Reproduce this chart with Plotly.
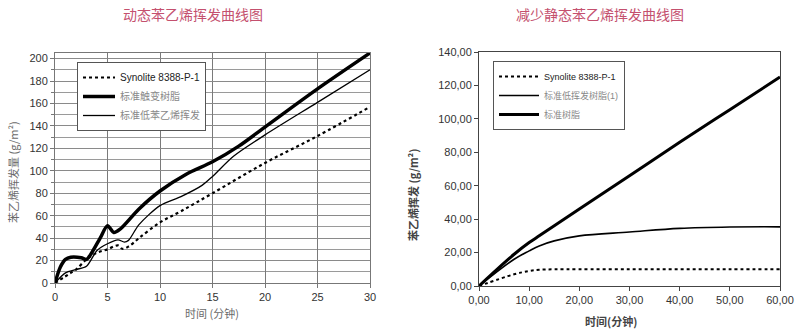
import plotly.graph_objects as go

# ---- Dynamic styrene emission (left panel) ----
dyn_title = "动态苯乙烯挥发曲线图"
dyn_names = ["Synolite 8388-P-1", "标准触变树脂", "标准低苯乙烯挥发"]

dyn_syn_t = [0, 1, 1.5, 2, 3, 4, 5, 6, 6.4, 7, 8, 10, 12, 15, 20, 25, 30]
dyn_syn_v = [0, 6, 9, 12, 21, 27, 30, 33.5, 30.5, 32.5, 40, 54, 64, 80, 107, 131, 157]

dyn_thx_t = [0, 0.5, 1, 1.5, 2.5, 3, 3.5, 4.3, 5, 5.6, 6.2, 8, 10, 12.5, 15, 17.5, 20, 25, 30]
dyn_thx_v = [0, 14, 21, 23, 22.5, 21, 27, 40, 51, 45, 48, 66, 82, 97, 108, 122, 139, 173, 205]

dyn_low_t = [0, 1, 2, 3, 4, 5, 6, 6.6, 7, 8, 10, 12, 14, 15, 17, 20, 25, 30]
dyn_low_v = [0, 9, 12, 15, 29, 35, 38.5, 36.5, 38, 52, 69, 77, 87, 95, 113, 132, 161, 190]

# ---- Reduced static styrene emission (right panel) ----
sta_title = "减少静态苯乙烯挥发曲线图"
sta_names = ["Synolite 8388-P-1", "标准低挥发树脂(1)", "标准树脂"]

sta_t = [0, 7, 10, 12, 15, 20, 30, 40, 50, 60]
sta_syn_v = [0, 7, 9, 9.7, 10, 10, 10, 10, 10, 10]
sta_low_v = [0, 16, 21, 24, 27, 30, 32.3, 34.5, 35.3, 35.4]
sta_std_v = [0, 19, 26, 30, 36, 46, 66, 86, 105.5, 125]

title_color = "#c4506e"
gray_text = "#6a6a6a"
cjk = "Noto Sans CJK SC"
latin = "Liberation Sans"


def lname(text, color):
    return f"<span style='color:{color}'>{text}</span>"


fig = go.Figure()

# left panel traces
fig.add_trace(go.Scatter(x=dyn_syn_t, y=dyn_syn_v, mode="lines", line=dict(color="black", width=2.2, dash="dot", shape="spline"),
                         name=lname(dyn_names[0], "#222"), legend="legend", xaxis="x", yaxis="y"))
fig.add_trace(go.Scatter(x=dyn_thx_t, y=dyn_thx_v, mode="lines", line=dict(color="black", width=3.5, shape="spline", smoothing=0.8),
                         name=lname(dyn_names[1], "#888"), legend="legend", xaxis="x", yaxis="y"))
fig.add_trace(go.Scatter(x=dyn_low_t, y=dyn_low_v, mode="lines", line=dict(color="black", width=1.3, shape="spline", smoothing=0.8),
                         name=lname(dyn_names[2], "#888"), legend="legend", xaxis="x", yaxis="y"))

# right panel traces
fig.add_trace(go.Scatter(x=sta_t, y=sta_syn_v, mode="lines", line=dict(color="black", width=2, dash="dot", shape="spline"),
                         name=lname(sta_names[0], "#222"), legend="legend2", xaxis="x2", yaxis="y2"))
fig.add_trace(go.Scatter(x=sta_t, y=sta_low_v, mode="lines", line=dict(color="black", width=1.6, shape="spline"),
                         name=lname(sta_names[1], "#888"), legend="legend2", xaxis="x2", yaxis="y2"))
fig.add_trace(go.Scatter(x=sta_t, y=sta_std_v, mode="lines", line=dict(color="black", width=3, shape="spline"),
                         name=lname(sta_names[2], "#888"), legend="legend2", xaxis="x2", yaxis="y2"))

W, H = 800, 331

legend_common = dict(
    bgcolor="white", bordercolor="#555", borderwidth=1,
    xanchor="left", yanchor="top", tracegroupgap=0,
)


def note(text, x, y, size=11, color=gray_text, angle=0):
    return dict(text=text, x=x / W, y=1 - y / H, xref="paper", yref="paper", showarrow=False,
                xanchor="center", yanchor="middle", textangle=angle,
                font=dict(family=cjk, size=size, color=color))


fig.update_layout(
    width=W, height=H,
    margin=dict(l=0, r=0, t=0, b=0, autoexpand=False),
    paper_bgcolor="white", plot_bgcolor="white",
    separators=",.",
    showlegend=True,
    font=dict(family=f"{latin}, {cjk}", size=11, color="#333"),
    legend=dict(x=77 / W, y=1 - 62 / H, itemwidth=32,
                font=dict(family=f"{latin}, {cjk}", size=10, color="#222"), **legend_common),
    legend2=dict(x=493 / W, y=1 - 61 / H, itemwidth=40,
                 font=dict(family=f"{latin}, {cjk}", size=9, color="#222"), **legend_common),
    xaxis=dict(
        domain=[55 / W, 370 / W], range=[0, 30], dtick=5, tick0=0,
        showgrid=True, gridcolor="#7a7a7a", gridwidth=1,
        showline=True, linecolor="#777", mirror=True,
        ticks="outside", ticklen=4, tickcolor="#777",
        tickfont=dict(size=11, color="#333"), zeroline=False, automargin=False,
    ),
    yaxis=dict(
        domain=[(H - 283) / H, (H - 53) / H], range=[0, 205], dtick=20, tick0=0,
        showgrid=True, gridcolor="#8a8a8a", gridwidth=1,
        minor=dict(dtick=10, showgrid=True, gridcolor="#9a9a9a", ticks="outside", ticklen=3, tickcolor="#777"),
        showline=True, linecolor="#777", mirror=True,
        ticks="outside", ticklen=4, tickcolor="#777",
        tickfont=dict(size=11, color="#333"), zeroline=False, automargin=False,
    ),
    xaxis2=dict(
        domain=[479 / W, 780 / W], range=[0, 60], dtick=10, tick0=0, tickformat=".2f",
        showgrid=False, showline=True, linecolor="#444", mirror=True,
        ticks="outside", ticklen=4, tickcolor="#444",
        tickfont=dict(size=11, color="#333"), zeroline=False, anchor="y2", automargin=False,
    ),
    yaxis2=dict(
        domain=[(H - 286) / H, (H - 52) / H], range=[0, 140], dtick=20, tick0=0, tickformat=".2f",
        showgrid=False, showline=True, linecolor="#444", mirror=True,
        ticks="outside", ticklen=4, tickcolor="#444",
        tickfont=dict(size=11, color="#333"), zeroline=False, anchor="x2", automargin=False,
    ),
    annotations=[
        note(dyn_title, 193, 14, size=14, color=title_color),
        note(sta_title, 600, 14, size=14, color=title_color),
        note("时间 (分钟)", 212, 313),
        note("苯乙烯挥发量 (g/m²)", 13, 172, angle=-90),
        note("<b>时间(分钟)</b>", 611, 321, color="#444"),
        note("<b>苯乙烯挥发 (g/m²)</b>", 413, 195, color="#444", angle=-90),
    ],
)

fig.write_html("out.html")
